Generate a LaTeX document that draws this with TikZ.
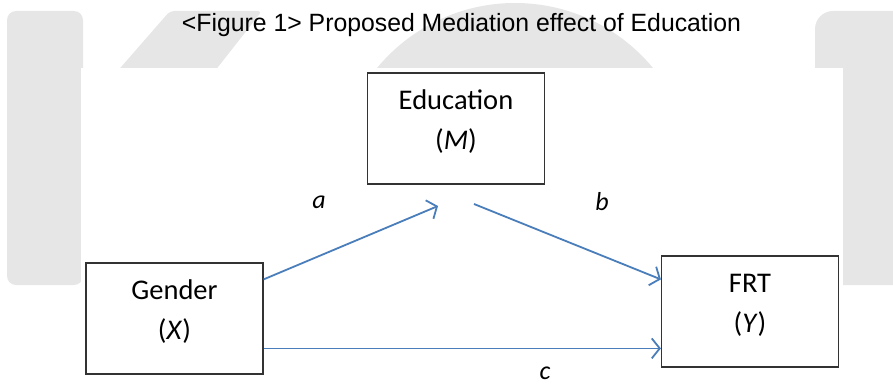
\documentclass[tikz,border=0pt]{standalone}
\usepackage{graphicx}
\usepackage{fontspec}
\setmainfont{Carlito}
\newfontfamily\titlefont{Liberation Sans}
\usetikzlibrary{arrows.meta,calc}
\definecolor{arrowblue}{HTML}{4A7EBB}
\definecolor{wm}{HTML}{E6E6E6}
\begin{document}
\begin{tikzpicture}[x=1pt,y=-1pt,
  box/.style={draw=black!80, line width=1.2pt, fill=white, minimum width=177pt,
    minimum height=111pt, align=center, font=\fontsize{28.5}{40}\selectfont, inner sep=0pt},
  link/.style={draw=arrowblue, line width=1.8pt, -{Straight Barb[length=8pt,width=20pt]}},
  lab/.style={font=\fontsize{26}{30}\selectfont\itshape, inner sep=1pt}]
\useasboundingbox (0,0) rectangle (893,385);
\clip (0,0) rectangle (893,385);
% watermark shapes
\fill[wm, rounded corners=9pt] (7,11) rectangle (83,285);
\fill[wm, rounded corners=18pt] (815,11) rectangle (920,285);
\fill[wm, rounded corners=4pt] (170,11) -- (262,11) -- (200,90) -- (101,90) -- cycle;
\fill[wm] (515,182) circle (179);
\fill[white] (81,68) rectangle (843,390);
% title
\node[anchor=base, font=\titlefont\fontsize{25}{28}\selectfont] (title) at (461.5,32)
  {\resizebox{559pt}{\height}{<Figure 1> Proposed Mediation effect of Education}};
% boxes
\node[box] (edu) at (456,128.5) {Education\\(\textit{M})\rule[-17pt]{0pt}{1pt}};
\node[box] (gen) at (174.5,318.5) {Gender\\(\textit{X})\rule[-17pt]{0pt}{1pt}};
\node[box] (frt) at (750,311.5) {FRT\\(\textit{Y})\rule[-17pt]{0pt}{1pt}};
% connectors
\coordinate (aS) at ($(gen.north east)+(0,17)$);
\coordinate (aE) at (438,206);
\coordinate (bS) at (474,204);
\coordinate (bE) at ($(frt.north west)+(0,24)$);
\coordinate (cS) at ($(gen.north east)+(0,86)$);
\draw[link] (aS) -- (aE);
\draw[link] (bS) -- (bE);
\draw[link] (cS) -- (cS -| frt.west);
% labels
\node[lab] (la) at (319,202) {a};
\node[lab] (lb) at (602,202) {b};
\node[lab] (lc) at (545,373) {c};
\end{tikzpicture}
\end{document}
